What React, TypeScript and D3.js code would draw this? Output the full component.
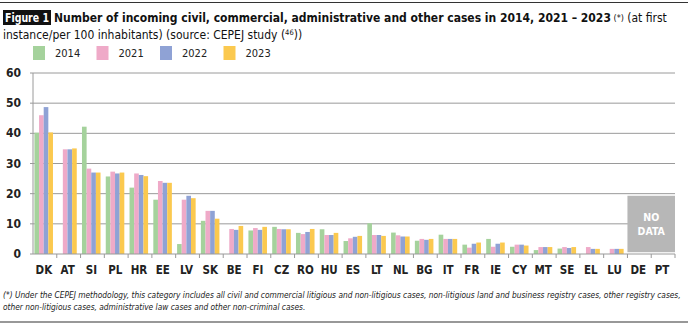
import React from "react";
import * as d3 from "d3";

const categories = ["DK","AT","SI","PL","HR","EE","LV","SK","BE","FI","CZ","RO","HU","ES","LT","NL","BG","IT","FR","IE","CY","MT","SE","EL","LU","DE","PT"];
const seriesNames = ["2014","2021","2022","2023"];
const v2014 = [40.2,null,42.2,25.7,22,18,3.3,11,null,7.8,9,7,8.2,4.3,10.2,7.1,4.4,6.4,3.1,5,2.4,1.3,1.8,null,null,null,null];
const v2021 = [46,34.7,28.3,27.3,26.7,24.2,18,14.3,8.3,8.6,8.3,6.6,6.3,5.2,6.3,6.2,5,5,2.1,2.4,3.1,2.3,2.3,2.3,1.7,null,null];
const v2022 = [48.7,34.7,27,26.7,26.2,23.6,19.3,14.3,8,8,8.2,7.3,6.3,5.7,6.3,5.8,4.7,5,3.4,3.4,3.1,2.3,2,1.7,1.7,null,null];
const v2023 = [40.3,35,27,27,25.8,23.6,18.5,11.7,9.3,9,8.2,8.3,7,6,6,5.8,5,5,3.8,3.8,2.8,2.3,2.3,1.7,1.7,null,null];
const yTicks = [0,10,20,30,40,50,60];
const noDataCats = ["DE","PT"];
const noDataLevel = 19.3;

const colors = ["#a5d29c","#efaac8","#8fa2d5","#fbc94f"];
const FONT = "'DejaVu Sans Condensed','DejaVu Sans',sans-serif";

export default function App() {
  const W = 690, H = 324;
  const left = 33, right = 675, top = 73, bottom = 254;
  const x = d3.scaleBand<string>().domain(categories).range([left, right]).paddingInner(0).paddingOuter(0);
  const bw = x.bandwidth();
  const x1 = d3.scaleBand<string>().domain(seriesNames).range([bw * 0.06, bw * 0.84]).padding(0);
  const y = d3.scaleLinear().domain([0, 60]).range([bottom, top]);
  const allSeries = [v2014, v2021, v2022, v2023];

  const ndX0 = x(noDataCats[0])!;
  const ndX1 = x(noDataCats[noDataCats.length - 1])! + bw;

  return (
    <div style={{ position: "absolute", left: 0, top: 0 }}>
      <svg width={W} height={H} style={{ display: "block", background: "#fff" }} fontFamily={FONT}>
        <line x1={0} x2={688} y1={2.5} y2={2.5} stroke="#333" strokeWidth={1.2} />
        <rect x={3} y={10} width={48} height={15} fill="#111" />
        <text x={5} y={22} fill="#fff" fontWeight="bold" fontSize={12} textLength={44} lengthAdjust="spacingAndGlyphs">Figure 1</text>
        <text x={54} y={22} fontSize={12} fill="#111">
          <tspan fontWeight="bold">Number of incoming civil, commercial, administrative and other cases in 2014, 2021 – 2023</tspan>
          <tspan fontSize={9} dy={-1}> (*)</tspan>
          <tspan dy={1}> (at first</tspan>
        </text>
        <text x={3} y={39} fontSize={12} fill="#111">
          instance/per 100 inhabitants) (source: CEPEJ study (<tspan fontSize={7.5} dy={-4}>46</tspan><tspan dy={4}>))</tspan>
        </text>

        {seriesNames.map((s, i) => (
          <g key={s} transform={`translate(${33 + i * 63.5},46)`}>
            <rect x={0} y={0} width={12} height={14} fill={colors[i]} />
            <text x={22} y={11} fontSize={11} fill="#222">{s}</text>
          </g>
        ))}

        {yTicks.filter(t => t > 0).map(t => (
          <line key={t} x1={left - 3} x2={right} y1={y(t)} y2={y(t)} stroke="#9a9a9a" strokeWidth={1} />
        ))}
        {yTicks.map(t => (
          <text key={t} x={21} y={y(t) + 4} fontSize={12} textAnchor="end" fill="#222" fontWeight="bold">{t}</text>
        ))}

        {categories.map((c, ci) => (
          <g key={c} transform={`translate(${x(c)},0)`}>
            {allSeries.map((arr, si) => {
              const v = arr[ci];
              if (v == null) return null;
              return <rect key={si} x={x1(seriesNames[si])} y={y(v)} width={x1.bandwidth()} height={y(0) - y(v)} fill={colors[si]} />;
            })}
          </g>
        ))}

        <rect x={ndX0} y={y(noDataLevel)} width={ndX1 - ndX0} height={y(0.6) - y(noDataLevel)} fill="#b7b7b7" />
        <text x={(ndX0 + ndX1) / 2} y={y(noDataLevel) + 25} fontSize={10.5} fontWeight="bold" fill="#fff" textAnchor="middle">NO</text>
        <text x={(ndX0 + ndX1) / 2} y={y(noDataLevel) + 39} fontSize={10.5} fontWeight="bold" fill="#fff" textAnchor="middle">DATA</text>

        <line x1={left} x2={left} y1={top} y2={bottom} stroke="#9a9a9a" />
        <line x1={left - 3} x2={right} y1={bottom} y2={bottom} stroke="#9a9a9a" />
        {categories.map(c => (
          <line key={c} x1={x(c)! + bw} x2={x(c)! + bw} y1={bottom} y2={bottom + 4} stroke="#9a9a9a" />
        ))}
        {categories.map(c => (
          <text key={c} x={x(c)! + bw / 2 - 1} y={274} fontSize={11.5} fontWeight="bold" textAnchor="middle" fill="#222">{c}</text>
        ))}

        <text x={3} y={298} fontSize={8.3} fontStyle="italic" fill="#222">(*) Under the CEPEJ methodology, this category includes all civil and commercial litigious and non-litigious cases, non-litigious land and business registry cases, other registry cases,</text>
        <text x={3} y={310} fontSize={8.3} fontStyle="italic" fill="#222">other non-litigious cases, administrative law cases and other non-criminal cases.</text>
        <line x1={0} x2={688} y1={322} y2={322} stroke="#333" strokeWidth={1.2} />
      </svg>
    </div>
  );
}
